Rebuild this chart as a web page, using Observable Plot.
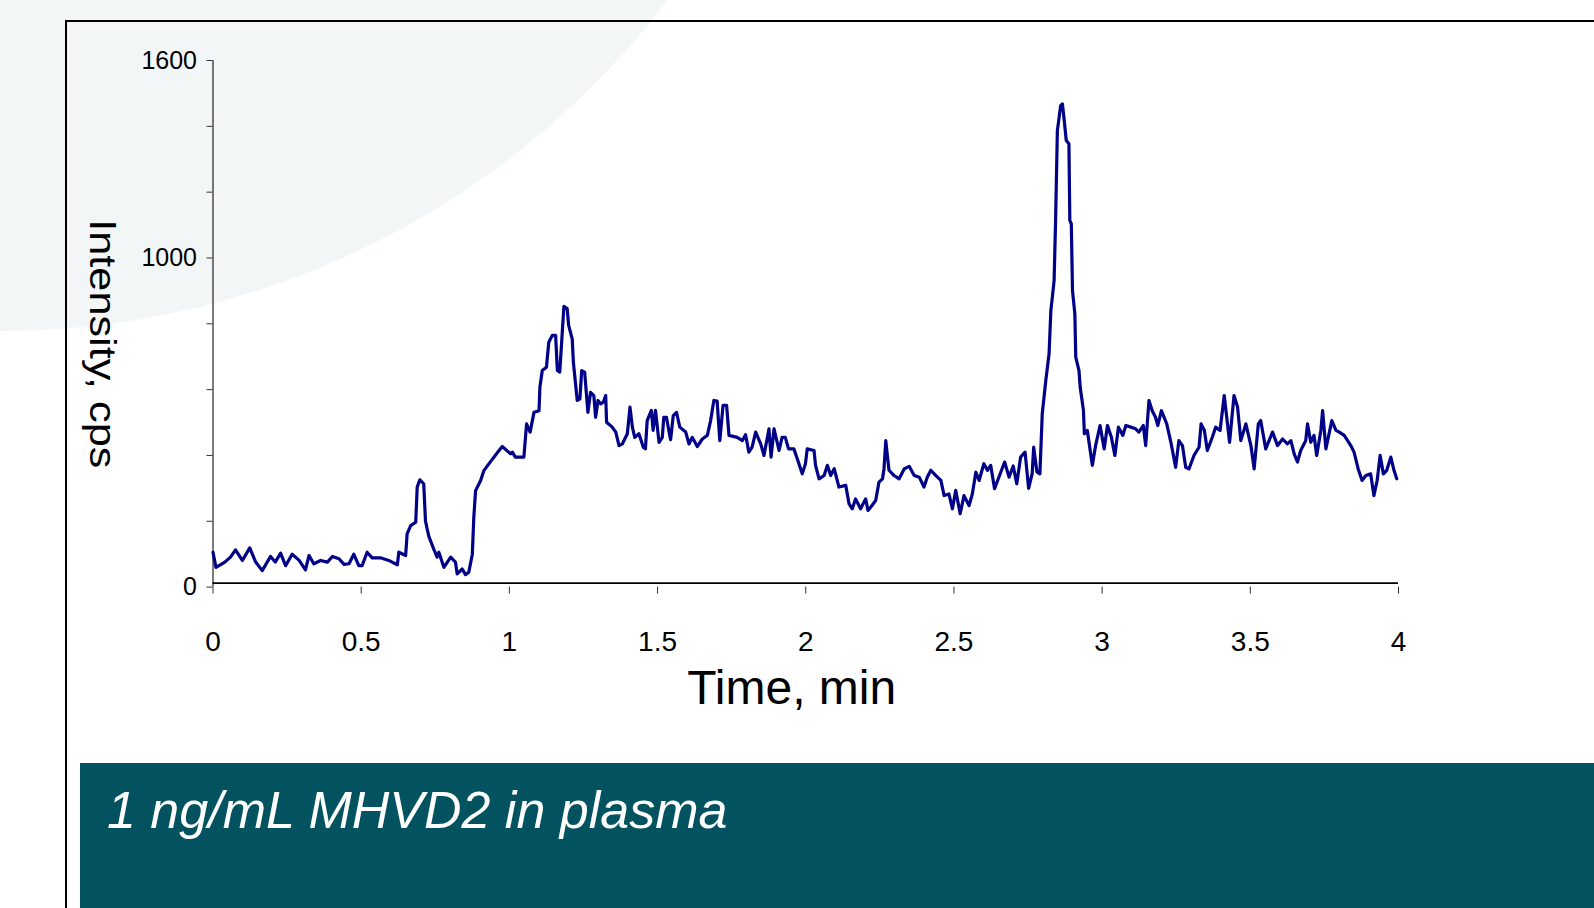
<!DOCTYPE html>
<html>
<head>
<meta charset="utf-8">
<script src="https://cdn.jsdelivr.net/npm/d3@7"></script>
<script src="https://cdn.jsdelivr.net/npm/@observablehq/plot@0.6"></script>
<style>
  html, body { margin: 0; padding: 0; width: 1594px; height: 908px; overflow: hidden; background: #ffffff; font-family: "Liberation Sans", Arial, sans-serif; }
  #bg { position: absolute; left: -839px; top: -1347px; width: 1678px; height: 1678px; border-radius: 50%; background: #f3f6f7; }
  #frame { position: absolute; left: 65px; top: 20px; right: -10px; bottom: -10px; border: 2px solid #000; }
  #chart { position: absolute; left: 0; top: 0; }
  #banner { position: absolute; left: 80px; top: 763px; right: 0; bottom: 0; background: #02535f; }
  #caption { position: absolute; left: 107px; top: 784px; font-size: 52px; line-height: 1; font-style: italic; color: #ffffff; white-space: nowrap; }
</style>
</head>
<body>
<div id="bg"></div>
<div id="frame"></div>
<div id="banner"></div>
<div id="caption">1 ng/mL MHVD2 in plasma</div>
<div id="chart"></div>
<script>
const time = [
  0, .01, .04, .059, .076, .099, .124, .144, .166, .194, .21, .228, .245, .267, .29, .312, .324, .34, .363, .386,
  .403, .425, .442, .459, .475, .492, .503, .52, .537, .565, .593, .622, .627, .65, .655, .667, .684, .689, .698, .711,
  .717, .728, .745, .756, .762, .779, .802, .818, .824, .841, .852, .863, .875, .880, .886, .903, .914, .937, .965,
  .976, 1.004, 1.01, 1.02, 1.049, 1.058, 1.07, 1.083, 1.10, 1.103, 1.111, 1.125, 1.133, 1.145, 1.156, 1.162, 1.17,
  1.184, 1.195, 1.2, 1.212, 1.216, 1.229, 1.238, 1.244, 1.254, 1.265, 1.274, 1.285, 1.291, 1.299, 1.308, 1.317,
  1.325, 1.328, 1.347, 1.359, 1.37, 1.381, 1.398, 1.407, 1.415, 1.423, 1.437, 1.452, 1.459, 1.465, 1.479, 1.485,
  1.493, 1.505, 1.516, 1.521, 1.53, 1.538, 1.544, 1.553, 1.564, 1.575, 1.595, 1.606, 1.617, 1.634, 1.651, 1.668,
  1.679, 1.69, 1.701, 1.71, 1.721, 1.733, 1.741, 1.769, 1.786, 1.797, 1.808, 1.819, 1.831, 1.848, 1.859, 1.876,
  1.883, 1.893, 1.91, 1.92, 1.931, 1.942, 1.96,
  1.977, 1.988, 1.999, 2.005, 2.028, 2.033, 2.045, 2.062, 2.073, 2.084, 2.096, 2.112, 2.135, 2.146, 2.157, 2.168,
  2.185, 2.202, 2.21, 2.221, 2.236, 2.247, 2.259, 2.264, 2.27, 2.276, 2.281, 2.298, 2.315, 2.332, 2.349, 2.366,
  2.383, 2.399, 2.41, 2.422, 2.439, 2.456, 2.467, 2.483, 2.495, 2.506, 2.521, 2.534, 2.551, 2.562, 2.574, 2.585,
  2.601, 2.613, 2.624, 2.637, 2.658, 2.671, 2.686, 2.70, 2.712, 2.725, 2.74, 2.752, 2.764, 2.769, 2.78, 2.79,
  2.798, 2.81, 2.821, 2.827, 2.832, 2.838, 2.843, 2.849, 2.855, 2.86, 2.866, 2.871, 2.879, 2.888, 2.891, 2.896,
  2.9, 2.908, 2.911, 2.922, 2.926, 2.937, 2.94, 2.95, 2.967, 2.978, 2.993, 3.007, 3.018, 3.031, 3.043, 3.055,
  3.07, 3.08, 3.097, 3.113, 3.124, 3.139, 3.147, 3.158, 3.169, 3.18, 3.188, 3.2, 3.218, 3.232, 3.248, 3.259,
  3.271, 3.282, 3.293, 3.31, 3.327, 3.334, 3.345, 3.355, 3.372, 3.383, 3.398, 3.412, 3.423, 3.43, 3.445, 3.457,
  3.468, 3.485, 3.502, 3.513, 3.527, 3.535, 3.552, 3.575, 3.592, 3.609, 3.625, 3.637, 3.648, 3.659, 3.67, 3.687,
  3.693, 3.704, 3.715, 3.724, 3.738, 3.744, 3.755, 3.775, 3.789, 3.8, 3.817, 3.839, 3.85, 3.864, 3.877, 3.89,
  3.906, 3.917, 3.928, 3.938, 3.949, 3.96, 3.974, 3.985, 3.994
];
const intensity = [
  106, 60, 76, 91, 113, 81, 119, 76, 50, 93, 76, 103, 65, 100, 82, 52, 96, 71, 81, 76,
  93, 86, 69, 71, 100, 65, 65, 106, 89, 89, 81, 68, 106, 96, 162, 187, 197, 304, 326, 314,
  200, 155, 115, 91, 106, 60, 91, 76, 40, 55, 38, 45, 100, 212, 293, 324, 354, 382, 415,
  427, 405, 410, 395, 395, 496, 471, 531, 536, 607, 658, 668, 744, 765, 765, 658, 653,
  853, 846, 795, 754, 683, 567, 572, 658, 653, 531, 592, 582, 516, 567, 557, 562,
  582, 501, 486, 471, 430, 435, 466, 547, 486, 455, 466, 425, 420, 506, 537, 476,
  537, 440, 455, 516, 516, 476, 448, 521, 531, 486, 471, 435, 455, 427, 450, 461,
  506, 567, 565, 445, 552, 552, 461, 455, 445, 463, 410, 425, 471, 435, 400, 481,
  395, 481, 415, 455, 455, 420, 420,
  375, 344, 375, 420, 415, 370, 329, 339, 370, 339, 360, 304, 309, 253, 238, 268,
  238, 268, 233, 245, 263, 319, 329, 359, 445, 395, 355, 339, 329, 359, 367, 339,
  334, 304, 334, 355, 339, 324, 278, 283, 238, 294, 223, 278, 248, 283, 349, 324,
  375, 355, 370, 299, 349, 380, 334, 368, 314, 395, 410, 300, 345, 425, 350, 344,
  527, 628, 709, 840, 881, 932, 1114, 1387, 1428, 1463, 1468, 1428, 1357, 1347, 1114, 1104,
  901, 830, 699, 658, 607, 537, 466, 476, 370, 430, 491, 420, 491, 456, 400, 486,
  461, 491, 486, 481, 471, 491, 430, 567, 536, 516, 491, 536, 496, 440, 364, 445,
  430, 364, 359, 400, 425, 496, 476, 415, 456, 486, 476, 582, 496, 440, 582, 547,
  445, 496, 430, 359, 496, 506, 420, 471, 430, 450, 435, 445, 405, 380, 415, 445,
  496, 440, 461, 400, 476, 536, 420, 506, 476, 471, 461, 430, 410, 359, 324, 339,
  344, 278, 324, 400, 344, 354, 395, 354, 329
];
const xTicks = [0, 0.5, 1, 1.5, 2, 2.5, 3, 3.5, 4];
const yTicks = [0, 200, 400, 600, 800, 1000, 1200, 1400, 1600];
const yTickLabels = [0, 1000, 1600];
const xTitle = "Time, min";
const yTitle = "Intensity, cps";

const data = time.map((t, i) => ({t, v: intensity[i]}));

const chart = Plot.plot({
  width: 1594,
  height: 740,
  marginLeft: 212.5,
  marginRight: 196,
  marginTop: 60,
  marginBottom: 153.4,
  x: {domain: [0, 4]},
  y: {domain: [0, 1600]},
  style: {background: "transparent", fontFamily: "'Liberation Sans', Arial, sans-serif", color: "#000", overflow: "visible"},
  marks: [
    Plot.ruleX([0], {stroke: "#222", strokeWidth: 1.2}),
    Plot.ruleY([0], {dy: -4, stroke: "#000", strokeWidth: 1.6}),
    Plot.axisY({ticks: yTicks, tickFormat: d => yTickLabels.includes(d) ? String(d) : "", tickSize: 6, tickPadding: 10, fontSize: 25, label: null, stroke: "#333"}),
    Plot.axisX({ticks: xTicks, tickFormat: d => String(d), tickSize: 7, tickPadding: 37, fontSize: 28, label: null, stroke: "#333"}),
    Plot.line(data, {x: "t", y: "v", stroke: "#000088", strokeWidth: 3.2, strokeLinejoin: "round"}),
    Plot.text([xTitle], {frameAnchor: "bottom", lineAnchor: "top", dx: -14, dy: 83, fontSize: 48, fill: "#000"}),
    Plot.text([yTitle], {frameAnchor: "left", textAnchor: "middle", lineAnchor: "middle", rotate: 90, dx: -111, dy: 20, fontSize: 37, fill: "#000"})
  ]
});
document.getElementById("chart").appendChild(chart);
// stretch the rotated axis title along its length as in the original slide
d3.select(chart).selectAll("text").filter(function() { return this.textContent === yTitle; })
  .attr("textLength", 249).attr("lengthAdjust", "spacingAndGlyphs");
</script>
</body>
</html>
